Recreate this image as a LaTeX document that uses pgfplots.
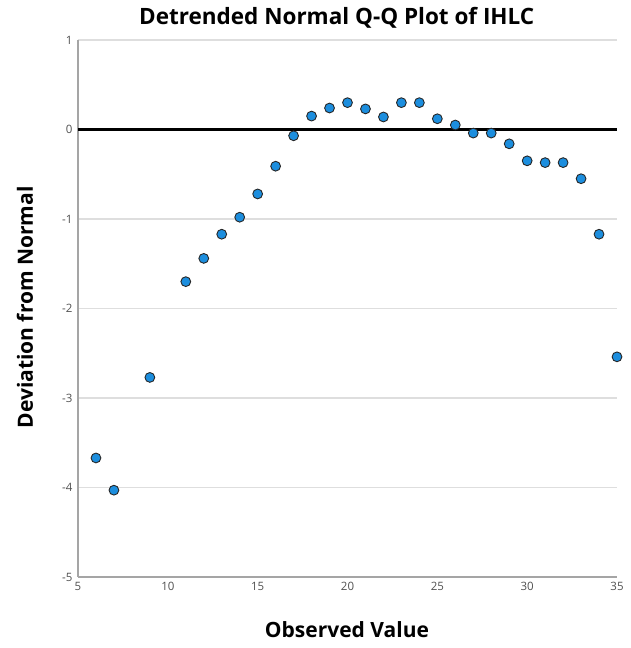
\documentclass[border=0pt]{standalone}
\usepackage{fontspec}
\setmainfont{Open Sans}
\usepackage{pgfplots}
\pgfplotsset{compat=1.18}
\definecolor{ptfill}{RGB}{28,142,222}
\definecolor{gridc}{RGB}{222,222,222}
\definecolor{axc}{RGB}{165,165,165}
\definecolor{tickc}{RGB}{80,80,80}
\begin{document}
\begin{tikzpicture}
\useasboundingbox (-78pt,-71pt) rectangle (552pt,577pt);
\begin{axis}[
  at={(0,0)}, anchor=south west,
  scale only axis, width=539pt, height=537pt,
  xmin=5, xmax=35, ymin=-5, ymax=1,
  xtick={5,10,...,35}, ytick={-5,-4,...,1},
  axis x line*=bottom, axis y line*=left,
  axis line style={color=axc, line width=1.3pt, -},
  ymajorgrids, grid style={color=gridc, line width=1.3pt},
  major tick length=0pt,
  /pgf/number format/assume math mode=true,
  ticklabel style={font=\fontsize{11.5}{13}\selectfont, color=tickc},
  yticklabel style={xshift=-2pt},
  xticklabel style={yshift=-2pt},
  title={Detrended Normal Q-Q Plot of IHLC},
  title style={font=\fontsize{22.5}{26}\bfseries\selectfont, at={(rel axis cs:0.48,1)}, anchor=base, yshift=10pt},
  xlabel={Observed Value},
  xlabel style={font=\fontsize{21}{24}\bfseries\selectfont, at={(rel axis cs:0.499,0)}, anchor=base, yshift=-60pt},
  ylabel={Deviation from Normal},
  ylabel style={font=\fontsize{21}{24}\bfseries\selectfont, at={(rel axis cs:0,0.502)}, anchor=base, yshift=45pt},
  clip=false,
]
\addplot[black, line width=3pt, forget plot] coordinates {(5,0) (35,0)};
\addplot[only marks, mark=*, mark size=4.9pt, mark options={fill=ptfill, draw=black!85, line width=0.9pt}] coordinates {
(6,-3.67) (7,-4.03) (9,-2.77) (11,-1.70) (12,-1.44) (13,-1.17) (14,-0.98)
(15,-0.72) (16,-0.41) (17,-0.07) (18,0.15) (19,0.24) (20,0.30) (21,0.23)
(22,0.14) (23,0.30) (24,0.30) (25,0.12) (26,0.05) (27,-0.04) (28,-0.04)
(29,-0.16) (30,-0.35) (31,-0.37) (32,-0.37) (33,-0.55) (34,-1.17) (35,-2.54)
};
\end{axis}
\end{tikzpicture}
\end{document}
